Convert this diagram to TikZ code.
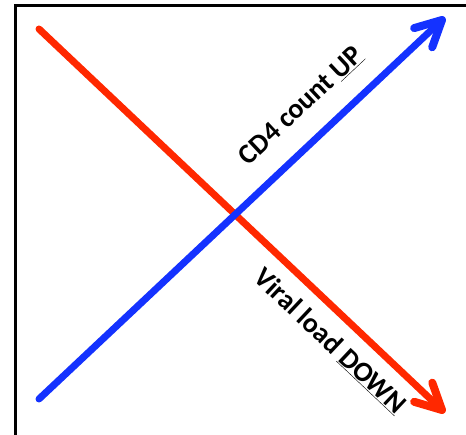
\documentclass[tikz,border=0pt]{standalone}
\usepackage{fontspec}
\setmainfont{Carlito}
\usetikzlibrary{calc}
\begin{document}
\begin{tikzpicture}[x=1pt,y=1pt,
  trend/.style={line width=7pt, line cap=round, line join=round},
  barb/.style={line width=8pt, line cap=round, line join=round},
  lbl/.style={font=\bfseries\fontsize{28}{32}\selectfont, inner sep=0pt}]
\definecolor{redline}{RGB}{255,40,0}
\definecolor{blueline}{RGB}{20,50,255}
\useasboundingbox (0,0) rectangle (466,435);
\draw[line width=3pt] (15,-20) -- (15,429) -- (490,429);
\coordinate (rs) at (39,406);
\coordinate (re) at (442,25);
\coordinate (bs) at (39,36);
\coordinate (be) at (442,415);
\draw[trend, redline] (rs) -- (re);
\draw[barb, redline] ($(re)!29pt!27:(rs)$) -- (re) -- ($(re)!29pt!-27:(rs)$);
\draw[trend, blueline] (bs) -- (be);
\draw[barb, blueline] ($(be)!29pt!27:(bs)$) -- (be) -- ($(be)!29pt!-27:(bs)$);
\node[lbl, rotate=43.2] (cd4) at (301,329) {CD4 count \underline{UP}};
\node[lbl, rotate=-43.3] (vl) at (330,94) {Viral load \underline{DOWN}};
\end{tikzpicture}
\end{document}
